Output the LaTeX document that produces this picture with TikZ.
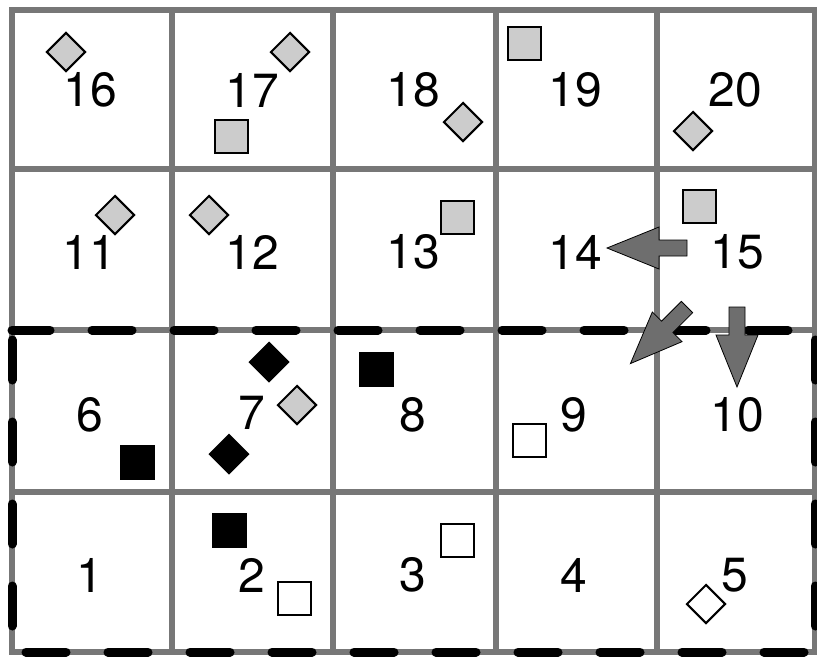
\documentclass[tikz,border=0pt]{standalone}
\usepackage{fontspec}
\setmainfont{TeX Gyre Heros}
\usetikzlibrary{positioning}
\definecolor{cellgray}{RGB}{119,119,119}
\definecolor{boxgray}{RGB}{204,204,204}
\definecolor{arrgray}{RGB}{110,110,110}
\tikzset{
  cellline/.style={draw=cellgray, line width=5.5pt},
  region/.style={draw=black, line width=9pt, dash pattern=on 40pt off 42pt, line cap=round},
  num/.style={font=\fontsize{48}{48}\selectfont, inner sep=0pt},
  sq/.style={draw, line width=2pt, minimum size=33pt, inner sep=0pt},
  dm/.style={sq, minimum size=27pt, rotate=45},
  gr/.style={fill=boxgray},
  bk/.style={fill=black},
  wh/.style={fill=white},
  shiftarr/.pic={
    \draw[black, line width=0.8pt, fill=arrgray, line join=miter]
      (0,-8) -- (28,-8) -- (28,-21) -- (80,0) -- (28,21) -- (28,8) -- (0,8) -- cycle;
  },
}

\begin{document}
\begin{tikzpicture}[x=1pt, y=-1pt]
  \useasboundingbox (0,0) rectangle (817,657);
  % cells
  \draw[cellline] (12,10) rectangle (815,652);
  \draw[cellline] (172,10) -- (172,652);
  \draw[cellline] (333,10) -- (333,652);
  \draw[cellline] (496,10) -- (496,652);
  \draw[cellline] (657,10) -- (657,652);
  \draw[cellline] (12,169) -- (815,169);
  \draw[cellline] (12,330) -- (815,330);
  \draw[cellline] (12,492) -- (815,492);
  % dashed region
  \coordinate (r1) at (12,330);
  \coordinate (r2) at (815,330);
  \coordinate (r3) at (815,652);
  \coordinate (r4) at (12,652);
  \draw[region, dash phase=2pt] (r1) -- (r2);
  \draw[region, dash phase=72pt] (r2) -- (r3);
  \draw[region, dash phase=68pt] (r4) -- (r3);
  \draw[region, dash phase=72pt] (r1) -- (r4);

  % objects
  \node[dm, gr] (d16) at (66,52) {};
  \node[dm, gr] (d17) at (290,52) {};
  \node[sq, gr] (s17) at (231,136) {};
  \node[dm, gr] (d18) at (463,122) {};
  \node[sq, gr] (s19) at (524,43) {};
  \node[dm, gr] (d20) at (693,131) {};
  \node[dm, gr] (d11) at (115,215) {};
  \node[dm, gr] (d12) at (209,215) {};
  \node[sq, gr] (s13) at (457,217) {};
  \node[sq, gr] (s15) at (699,206) {};
  \node[sq, bk] (s6) at (137,462) {};
  \node[dm, bk] (d7a) at (269,362) {};
  \node[dm, gr] (d7b) at (297,405) {};
  \node[dm, bk] (d7c) at (229,454) {};
  \node[sq, bk] (s8) at (376,369) {};
  \node[sq, wh] (s9) at (529,440) {};
  \node[sq, bk] (s2a) at (229,530) {};
  \node[sq, wh] (s2b) at (294,598) {};
  \node[sq, wh] (s3) at (457,540) {};
  \node[dm, wh] (d5) at (706,604) {};

  % cell numbers
  \node[num] (c16) at (90,90) {16};
  \node[num] (c17) at (252,90) {17};
  \node[num] (c18) at (413,90) {18};
  \node[num] (c19) at (575,90) {19};
  \node[num] (c20) at (735,90) {20};
  \node[num] (c11) at (89,252) {11};
  \node[num] (c12) at (252,252) {12};
  \node[num] (c13) at (413,252) {13};
  \node[num] (c14) at (575,252) {14};
  \node[num] (c15) at (737,252) {15};
  \node[num] (c6) at (90,415) {6};
  \node[num] (c7) at (252,413) {7};
  \node[num] (c8) at (413,415) {8};
  \node[num] (c9) at (574,415) {9};
  \node[num] (c10) at (737,415) {10};
  \node[num] (c1) at (90,575) {1};
  \node[num] (c2) at (252,575) {2};
  \node[num] (c3) at (413,575) {3};
  \node[num] (c4) at (574,575) {4};
  \node[num] (c5) at (735,575) {5};

  % moves out of 15
  \pic[rotate=180] (m14) at (687,248) {shiftarr};
  \pic[rotate=-135] (m9) at (687,307) {shiftarr};
  \pic[rotate=-90] (m10) at (737,307) {shiftarr};
\end{tikzpicture}
\end{document}
